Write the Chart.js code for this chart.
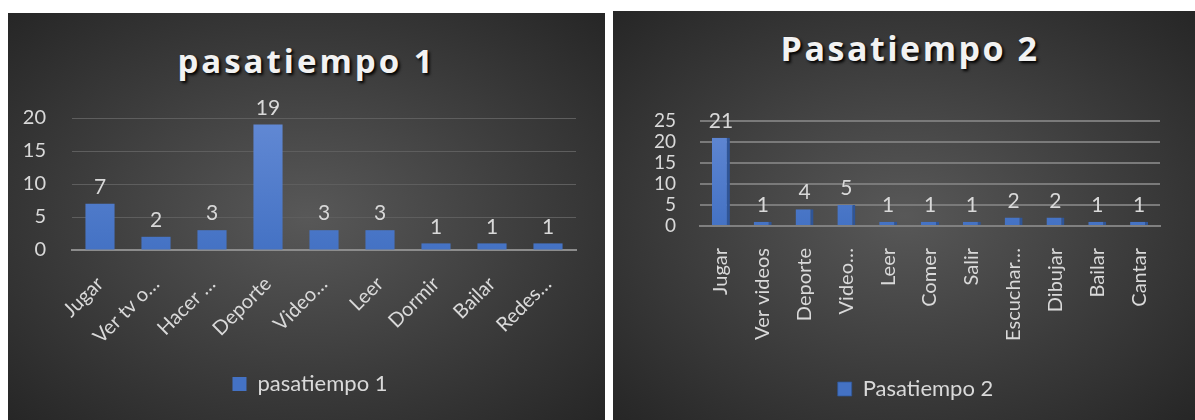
<!DOCTYPE html>
<html>
<head>
<meta charset="utf-8">
<script src="https://cdn.jsdelivr.net/npm/chart.js@4.4.1/dist/chart.umd.min.js"></script>
<style>
  body { margin: 0; background: #fff; width: 1195px; height: 420px; overflow: hidden; position: relative; font-family: Lato, "Open Sans", sans-serif; }
  .panel { position: absolute; background: radial-gradient(ellipse at 50% 50%, #585858 0%, #3c3c3c 55%, #262626 100%); overflow: hidden; }
  #panel1 { left: 8px; top: 13px; width: 597px; height: 407px; }
  #panel2 { left: 613px; top: 11px; width: 582px; height: 409px; }
  .panel canvas { position: absolute; left: 0; top: 0; }
  .title { position: absolute; left: 0; right: 0; text-align: center; color: #f2f2f2; font-weight: bold; letter-spacing: 3px; text-shadow: 2px 2px 3px #000; font-family: "Open Sans", Lato, sans-serif; }
</style>
</head>
<body>
<div class="panel" id="panel1">
  <div class="title" style="top:25px;font-size:33px;">pasatiempo 1</div>
  <canvas id="chart1" width="597" height="407"></canvas>
</div>
<div class="panel" id="panel2">
  <div class="title" style="top:14px;font-size:34px;left:12px;letter-spacing:2.5px;">Pasatiempo 2</div>
  <canvas id="chart2" width="582" height="409"></canvas>
</div>
<script>
// data
var labels1 = ["Jugar", "Ver tv o…", "Hacer …", "Deporte", "Video…", "Leer", "Dormir", "Bailar", "Redes…"];
var values1 = [7, 2, 3, 19, 3, 3, 1, 1, 1];

var labels2 = ["Jugar", "Ver videos", "Deporte", "Video…", "Leer", "Comer", "Salir", "Escuchar…", "Dibujar", "Bailar", "Cantar"];
var values2 = [21, 1, 4, 5, 1, 1, 1, 2, 2, 1, 1];

var textColor = "#d9d9d9";

// draws the value above every bar
var valueLabels = {
  id: "valueLabels",
  afterDatasetsDraw: function(chart) {
    var ctx = chart.ctx;
    var meta = chart.getDatasetMeta(0);
    ctx.save();
    ctx.fillStyle = textColor;
    ctx.font = "21px Lato";
    ctx.textAlign = "center";
    ctx.textBaseline = "bottom";
    meta.data.forEach(function(bar, i) {
      ctx.fillText(chart.data.datasets[0].data[i], bar.x, bar.y - 6);
    });
    ctx.restore();
  }
};

// nudge the legend sideways, it sits in the middle of the whole panel
function legendShift(dx) {
  return {
    id: "legendShift",
    afterLayout: function(chart) {
      chart.legend.left += dx;
      chart.legend.right += dx;
    }
  };
}

function barFill(context) {
  var area = context.chart.chartArea;
  if (!area) return "#4a77cb";
  var g = context.chart.ctx.createLinearGradient(0, area.top, 0, area.bottom);
  g.addColorStop(0, "#6289d4");
  g.addColorStop(1, "#4472c4");
  return g;
}

new Chart(document.getElementById("chart1"), {
  type: "bar",
  data: {
    labels: labels1,
    datasets: [{
      label: "pasatiempo 1",
      data: values1,
      backgroundColor: barFill,
      categoryPercentage: 1,
      barPercentage: 0.52
    }]
  },
  options: {
    responsive: false,
    animation: false,
    layout: { padding: { top: 105, left: 0, right: 29, bottom: 15 } },
    plugins: {
      legend: {
        position: "bottom",
        labels: { color: textColor, font: { size: 22, family: "Lato" }, boxWidth: 14, boxHeight: 14, padding: 10 }
      },
      tooltip: { enabled: false }
    },
    scales: {
      x: {
        afterFit: function(s) { s.height = 113; },
        grid: { display: false },
        border: { color: "#8c8c8c", width: 2 },
        ticks: { color: textColor, font: { size: 20, family: "Lato" }, minRotation: 45, maxRotation: 45, padding: 14, autoSkip: false }
      },
      y: {
        min: 0, max: 20,
        afterFit: function(s) { s.width = 64; },
        grid: { color: "#5e5e5e", drawTicks: false },
        border: { display: false },
        ticks: { stepSize: 5, color: textColor, font: { size: 20, family: "Lato" }, padding: 26, autoSkip: false }
      }
    }
  },
  plugins: [valueLabels, legendShift(18)]
});

new Chart(document.getElementById("chart2"), {
  type: "bar",
  data: {
    labels: labels2,
    datasets: [{
      label: "Pasatiempo 2",
      data: values2,
      backgroundColor: barFill,
      borderColor: "#2f5597",
      borderWidth: { right: 3, top: 0, left: 0, bottom: 0 },
      borderSkipped: false,
      categoryPercentage: 1,
      barPercentage: 0.43
    }]
  },
  options: {
    responsive: false,
    animation: false,
    layout: { padding: { top: 110, left: 0, right: 35, bottom: 10 } },
    plugins: {
      legend: {
        position: "bottom",
        labels: { color: textColor, font: { size: 22, family: "Lato" }, boxWidth: 14, boxHeight: 14, padding: 10 }
      },
      tooltip: { enabled: false }
    },
    scales: {
      x: {
        afterFit: function(s) { s.height = 142; },
        grid: { display: false },
        border: { color: "#808080", width: 2 },
        ticks: { color: textColor, font: { size: 20, family: "Lato" }, minRotation: 90, maxRotation: 90, padding: 14, autoSkip: false }
      },
      y: {
        min: 0, max: 25,
        afterFit: function(s) { s.width = 87; },
        grid: { color: "#7a7a7a", lineWidth: 2, drawTicks: false },
        border: { display: false },
        ticks: { stepSize: 5, color: textColor, font: { size: 19, family: "Lato" }, padding: 24, autoSkip: false }
      }
    }
  },
  plugins: [valueLabels, legendShift(29)]
});
</script>
</body>
</html>
